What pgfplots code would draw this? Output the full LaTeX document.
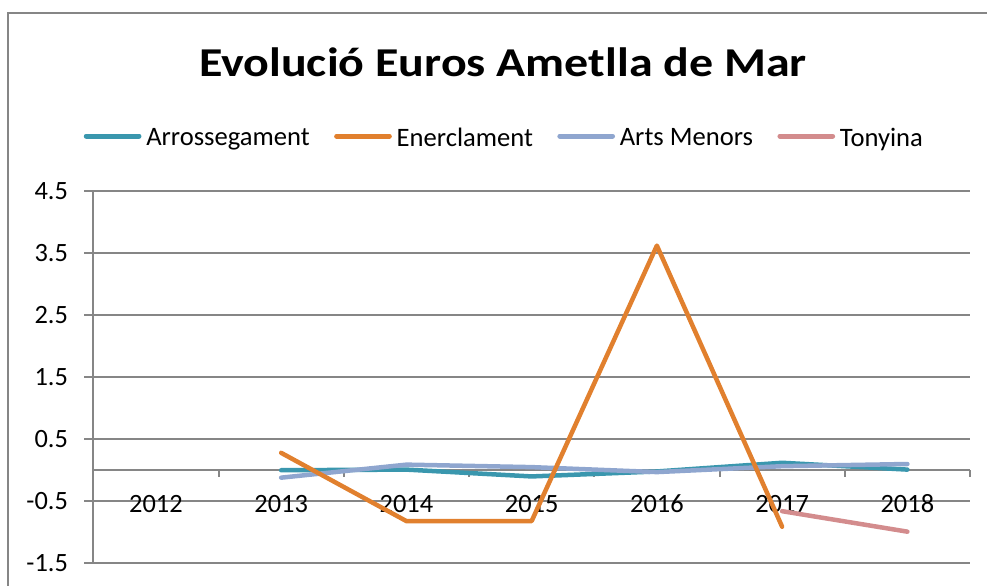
\documentclass[border=0pt]{standalone}
\usepackage{pgfplots}
\pgfplotsset{compat=1.18}
\usepackage{fontspec}
\setmainfont{Carlito}
\definecolor{gridgray}{RGB}{134,134,134}
\definecolor{cTeal}{RGB}{58,151,174}
\definecolor{cOrange}{RGB}{225,128,46}
\definecolor{cBlue}{RGB}{143,166,207}
\definecolor{cPink}{RGB}{211,140,141}
\begin{document}
\begin{tikzpicture}
\begin{axis}[
  at={(46.65pt,10.85pt)}, anchor=south west,
  width=438.35pt, height=186.15pt, scale only axis,
  xmin=2011.5, xmax=2018.5,
  ymin=-1.5, ymax=4.5,
  axis x line=middle, axis y line=left,
  axis line style={-, draw=gridgray, line width=1pt},
  xtick={2012,2013,2014,2015,2016,2017,2018},
  xticklabels={2012,2013,2014,2015,2016,2017,2018},
  x tick style={draw=none},
  ytick={-1.5,-0.5,0.5,1.5,2.5,3.5,4.5},
  yticklabels={-1.5,-0.5,0.5,1.5,2.5,3.5,4.5},
  y tick style={draw=gridgray, line width=1pt},
  tick align=outside, major tick length=4.5pt,
  ymajorgrids, grid style={draw=gridgray, line width=1pt},
  ticklabel style={font=\fontsize{13.2}{15}\selectfont, text=black},
  xticklabel style={anchor=base, yshift=-16.6pt},
  yticklabel style={anchor=east, inner sep=0pt, xshift=-8pt},
  clip=false,
  legend columns=4,
  legend style={at={(rel axis cs:0.4675,1.141)}, anchor=center, draw=none, fill=none,
    inner sep=0pt, font=\fontsize{13.3}{15}\selectfont,
    nodes={inner sep=0pt},
    /tikz/every odd column/.append style={column sep=2.2pt},
    /tikz/every even column/.append style={column sep=12pt}},
  legend image code/.code={\path (0pt,0pt) (28.85pt,0pt); \draw[#1,line width=2.5pt,line cap=round] (1.25pt,1.25pt) -- (27.6pt,1.25pt);},
]
\addlegendimage{cTeal}
\addlegendimage{cOrange}
\addlegendimage{cBlue}
\addlegendimage{cPink}
\legend{Arrossegament,Enerclament,Arts Menors,Tonyina}
\pgfplotsinvokeforeach{2012.5,2013.5,2014.5,2015.5,2016.5,2017.5,2018.5}{
  \draw[gridgray, line width=1pt] (axis cs:#1,0) -- ++(0pt,-3.5pt);
}
\addplot[forget plot, cTeal, line width=2.25pt, line cap=round, line join=round] coordinates {
(2013,0.00) (2014,0.01) (2015,-0.10) (2016,-0.02) (2017,0.12) (2018,0.01)};
\addplot[forget plot, cBlue, line width=2.25pt, line cap=round, line join=round] coordinates {
(2013,-0.12) (2014,0.09) (2015,0.05) (2016,-0.03) (2017,0.065) (2018,0.10)};
\addplot[forget plot, cOrange, line width=2.25pt, line cap=round, line join=round] coordinates {
(2013,0.28) (2014,-0.82) (2015,-0.82) (2016,3.62) (2017,-0.91)};
\addplot[forget plot, cPink, line width=2.25pt, line cap=round, line join=round] coordinates {
(2017,-0.66) (2018,-0.99)};
\end{axis}
\node[anchor=base, font=\fontsize{20.5}{24}\selectfont\bfseries, xscale=1.17] at (251.5pt,254.15pt) {Evolució Euros Ametlla de Mar};
\draw[gridgray, line width=1pt] (3.75pt,-5pt) -- (3.75pt,285.85pt) -- (500pt,285.85pt);
\pgfresetboundingbox
\path[use as bounding box] (0pt,0pt) rectangle (493.5pt,292.5pt);
\end{tikzpicture}
\end{document}
